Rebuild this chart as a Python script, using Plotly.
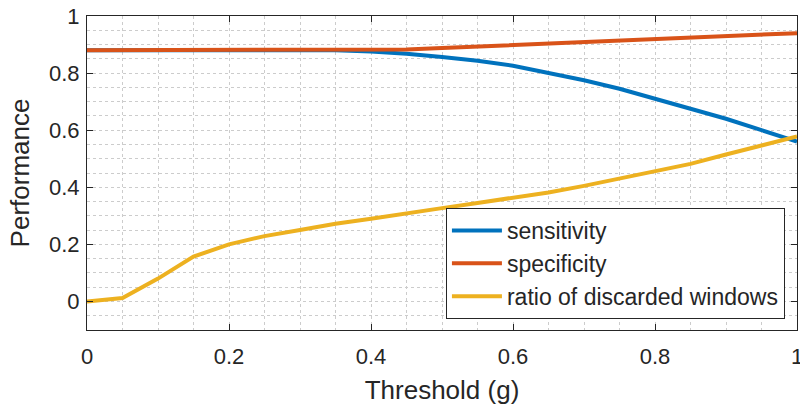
import plotly.graph_objects as go

threshold = [0.0, 0.05, 0.1, 0.15, 0.2, 0.25, 0.3, 0.35, 0.4, 0.45, 0.5,
             0.55, 0.6, 0.65, 0.7, 0.75, 0.8, 0.85, 0.9, 0.95, 1.0]
sensitivity = [0.88, 0.88, 0.88, 0.88, 0.88, 0.88, 0.88, 0.88, 0.876, 0.868, 0.856,
               0.843, 0.826, 0.80, 0.775, 0.745, 0.71, 0.676, 0.64, 0.60, 0.56]
specificity = [0.88, 0.88, 0.88, 0.88, 0.88, 0.88, 0.88, 0.88, 0.88, 0.883, 0.888,
               0.893, 0.898, 0.903, 0.909, 0.915, 0.92, 0.925, 0.93, 0.935, 0.94]
ratio_discarded = [0.0, 0.012, 0.08, 0.157, 0.20, 0.229, 0.25, 0.272, 0.29, 0.31, 0.327,
                   0.345, 0.363, 0.382, 0.405, 0.43, 0.455, 0.482, 0.515, 0.545, 0.578]

series_names = ["sensitivity", "specificity", "ratio of discarded windows"]
series_colors = ["#0072BD", "#D95319", "#EDB120"]
x_ticks = [0, 0.2, 0.4, 0.6, 0.8, 1]
y_ticks = [0, 0.2, 0.4, 0.6, 0.8, 1]

FONT = "Liberation Sans, Arial, sans-serif"
AX = "#262626"
GRID = "#cccccc"

fig = go.Figure()
for i, (name, ys, col) in enumerate(zip(series_names, [sensitivity, specificity, ratio_discarded], series_colors)):
    fig.add_trace(go.Scatter(x=threshold, y=ys, mode="lines", name=name,
                             line=dict(color=col, width=4), legendgroup=f"g{i}"))

axis_common = dict(
    showline=True, linecolor=AX, linewidth=1, mirror="ticks",
    ticks="inside", ticklen=6, tickcolor=AX, tickwidth=1,
    showgrid=True, gridcolor=GRID, griddash="dot", gridwidth=1,
    zeroline=False, automargin=False, ticklabeloverflow="allow",
    tickfont=dict(family=FONT, size=22, color=AX),
    minor=dict(dtick=0.05, showgrid=True, gridcolor=GRID, griddash="dot", gridwidth=1, ticks=""),
)

fig.update_xaxes(range=[0, 1], tickvals=x_ticks, ticktext=[f"{v:g}" for v in x_ticks],
                 ticklabelstandoff=7,
                 title=dict(text="Threshold (g)", font=dict(family=FONT, size=26, color=AX), standoff=12),
                 **axis_common)
fig.update_yaxes(range=[-0.1, 1], tickvals=y_ticks, ticktext=[f"{v:g}" for v in y_ticks],
                 ticklabelstandoff=2,
                 title=dict(text="Performance", font=dict(family=FONT, size=26, color=AX), standoff=11),
                 **axis_common)

fig.update_layout(
    width=800, height=407,
    margin=dict(l=87, r=3, t=16, b=77, autoexpand=False),
    paper_bgcolor="white", plot_bgcolor="white",
    font=dict(family=FONT, color=AX),
    legend=dict(x=0.983, y=0.035, xanchor="right", yanchor="bottom",
                bgcolor="white", bordercolor=AX, borderwidth=1,
                font=dict(family=FONT, size=23, color=AX),
                traceorder="grouped", tracegroupgap=0, itemwidth=50),
    showlegend=True,
)

fig.write_html("out.html", config={"displayModeBar": False},
               post_script="document.body.style.margin='0';document.body.style.overflow='hidden';")
